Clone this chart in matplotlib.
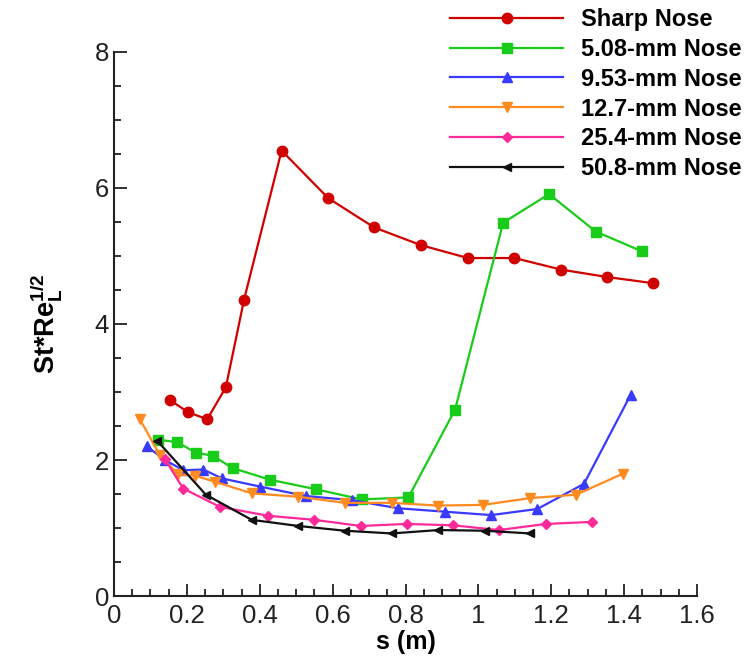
import numpy as np
import matplotlib
matplotlib.use('Agg')
import matplotlib.pyplot as plt
from matplotlib.ticker import MultipleLocator

plt.rcParams['font.family'] = ['Liberation Sans', 'DejaVu Sans']
plt.rcParams['mathtext.fontset'] = 'custom'
plt.rcParams['mathtext.rm'] = 'Liberation Sans'
plt.rcParams['mathtext.bf'] = 'Liberation Sans:bold'

# Sharp nose
s_sharp = [0.154, 0.204, 0.256, 0.307, 0.357, 0.460, 0.588, 0.714, 0.842, 0.971, 1.099, 1.227, 1.354, 1.480]
st_sharp = [2.88, 2.70, 2.60, 3.07, 4.36, 6.55, 5.85, 5.42, 5.16, 4.97, 4.97, 4.80, 4.69, 4.60]

# 5.08-mm nose
s_508 = [0.122, 0.174, 0.224, 0.272, 0.326, 0.428, 0.554, 0.680, 0.808, 0.936, 1.068, 1.194, 1.322, 1.448]
st_508 = [2.30, 2.26, 2.11, 2.06, 1.88, 1.71, 1.57, 1.42, 1.45, 2.74, 5.49, 5.91, 5.36, 5.07]

# 9.53-mm nose
s_953 = [0.090, 0.140, 0.190, 0.245, 0.296, 0.400, 0.527, 0.652, 0.780, 0.908, 1.035, 1.162, 1.290, 1.418]
st_953 = [2.20, 2.00, 1.85, 1.86, 1.73, 1.61, 1.47, 1.41, 1.29, 1.24, 1.19, 1.28, 1.65, 2.96]

# 12.7-mm nose
s_127 = [0.070, 0.126, 0.176, 0.222, 0.277, 0.378, 0.505, 0.634, 0.762, 0.889, 1.013, 1.142, 1.268, 1.397]
st_127 = [2.61, 2.07, 1.79, 1.77, 1.68, 1.51, 1.46, 1.37, 1.37, 1.33, 1.34, 1.44, 1.49, 1.80]

# 25.4-mm nose
s_254 = [0.140, 0.190, 0.291, 0.423, 0.550, 0.677, 0.803, 0.929, 1.057, 1.185, 1.313]
st_254 = [2.01, 1.58, 1.31, 1.18, 1.12, 1.03, 1.06, 1.04, 0.97, 1.06, 1.09]

# 50.8-mm nose
s_508b = [0.119, 0.252, 0.378, 0.506, 0.634, 0.762, 0.890, 1.018, 1.142]
st_508b = [2.28, 1.49, 1.12, 1.03, 0.96, 0.92, 0.97, 0.96, 0.92]

fig = plt.figure(figsize=(7.51, 6.69), dpi=100)
ax = fig.add_axes([0.1518, 0.1091, 0.7763, 0.8132])

lines = []
lines += ax.plot(s_sharp, st_sharp, '-o', color='#d10000', lw=1.6, ms=7.5, label='Sharp Nose')
lines += ax.plot(s_508, st_508, '-s', color='#19cc19', lw=1.6, ms=6.5, label='5.08-mm Nose')
lines += ax.plot(s_953, st_953, '-^', color='#3a3aff', lw=1.6, ms=6.5, label='9.53-mm Nose')
lines += ax.plot(s_127, st_127, '-v', color='#ff8a1f', lw=1.6, ms=6.5, label='12.7-mm Nose')
lines += ax.plot(s_254, st_254, '-D', color='#ff2a9a', lw=1.6, ms=5.5, label='25.4-mm Nose')
lines += ax.plot(s_508b, st_508b, '-<', color='#111111', lw=1.6, ms=5.5, label='50.8-mm Nose')

ax.set_xlim(0, 1.6)
ax.set_ylim(0, 8)
ax.set_xticks(np.arange(0, 1.61, 0.2))
ax.set_xticklabels(['0', '0.2', '0.4', '0.6', '0.8', '1', '1.2', '1.4', '1.6'])
ax.xaxis.set_minor_locator(MultipleLocator(0.05))
ax.yaxis.set_major_locator(MultipleLocator(2))
ax.yaxis.set_minor_locator(MultipleLocator(0.5))

ax.tick_params(which='both', direction='in', width=1.3, colors='#222222', labelsize=18.5)
ax.tick_params(which='major', length=9)
ax.tick_params(which='minor', length=5)
ax.tick_params(axis='x', pad=6)
for side in ['top', 'right']:
    ax.spines[side].set_visible(False)
for side in ['left', 'bottom']:
    ax.spines[side].set_linewidth(1.5)
    ax.spines[side].set_color('#222222')

ax.set_xlabel('s (m)', fontsize=18, fontweight='bold', labelpad=1)
ax.set_ylabel(r'St*Re$_\mathbf{L}^\mathbf{1/2}$', fontsize=19.5, fontweight='bold', labelpad=22)

fig.legend(handles=lines, loc='upper left', bbox_to_anchor=(0.599, 0.988), frameon=False,
           numpoints=1, handlelength=4.8, handletextpad=0.75, labelspacing=0.29,
           borderpad=0, borderaxespad=0,
           prop={'weight': 'bold', 'size': 17})

fig.savefig('out.png', dpi=100)
